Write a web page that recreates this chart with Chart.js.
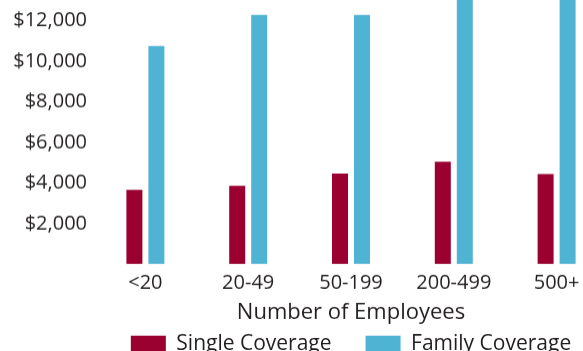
<!DOCTYPE html>
<html>
<head>
<meta charset="utf-8">
<script src="https://cdn.jsdelivr.net/npm/chart.js@4.4.1/dist/chart.umd.min.js"></script>
<style>
  html, body { margin: 0; padding: 0; background: #fff; overflow: hidden; }
  body { width: 583px; height: 351px; position: relative; }
  #wrap { position: absolute; left: 0; top: -38.8px; width: 608px; height: 402.3px; }
</style>
</head>
<body>
<div id="wrap"><canvas id="premiums"></canvas></div>
<script>
  // firm size groups
  const firmSizes = ['<20', '20-49', '50-199', '200-499', '500+'];
  // annual premiums, dollars
  const singleCoverage = [3660, 3860, 4460, 5040, 4440];
  const familyCoverage = [10750, 12280, 12280, 13900, 14300];
  const yTicks = [2000, 4000, 6000, 8000, 10000, 12000, 14000];

  const textColor = '#231f20';
  const family = "'Open Sans', sans-serif";
  const tickFont = { family: family, size: 20 };

  const ctx = document.getElementById('premiums');
  const premiumChart = new Chart(ctx, {
    type: 'bar',
    data: {
      labels: firmSizes,
      datasets: [{
        label: 'Single Coverage',
        data: singleCoverage,
        backgroundColor: '#9a0030'
      }, {
        label: 'Family Coverage',
        data: familyCoverage,
        backgroundColor: '#4fb3d3'
      }]
    },
    options: {
      responsive: true,
      maintainAspectRatio: false,
      animation: false,
      layout: { padding: 0 },
      datasets: { bar: { categoryPercentage: 0.428, barPercentage: 0.727 } },
      scales: {
        x: {
          grid: { display: false, drawTicks: false },
          border: { display: false },
          ticks: { color: textColor, font: tickFont, padding: 7 },
          title: {
            display: true,
            text: 'Number of Employees',
            color: textColor,
            font: { family: family, size: 22 },
            padding: { top: -2.7, bottom: -26.7 }
          }
        },
        y: {
          min: 0,
          max: 14000,
          grid: { display: false, drawTicks: false },
          border: { display: false },
          afterFit: (scale) => { scale.width = 94; },
          afterBuildTicks: (scale) => {
            scale.ticks = yTicks.map(v => ({ value: v }));
          },
          ticks: {
            color: textColor,
            font: tickFont,
            padding: 7,
            callback: (v) => '$' + v.toLocaleString('en-US')
          }
        }
      },
      plugins: {
        legend: {
          position: 'bottom',
          fullSize: false,
          labels: {
            color: textColor,
            font: { family: family, size: 21 },
            boxWidth: 35,
            boxHeight: 16,
            padding: 34
          }
        },
        tooltip: { enabled: false }
      }
    }
  });
</script>
</body>
</html>
